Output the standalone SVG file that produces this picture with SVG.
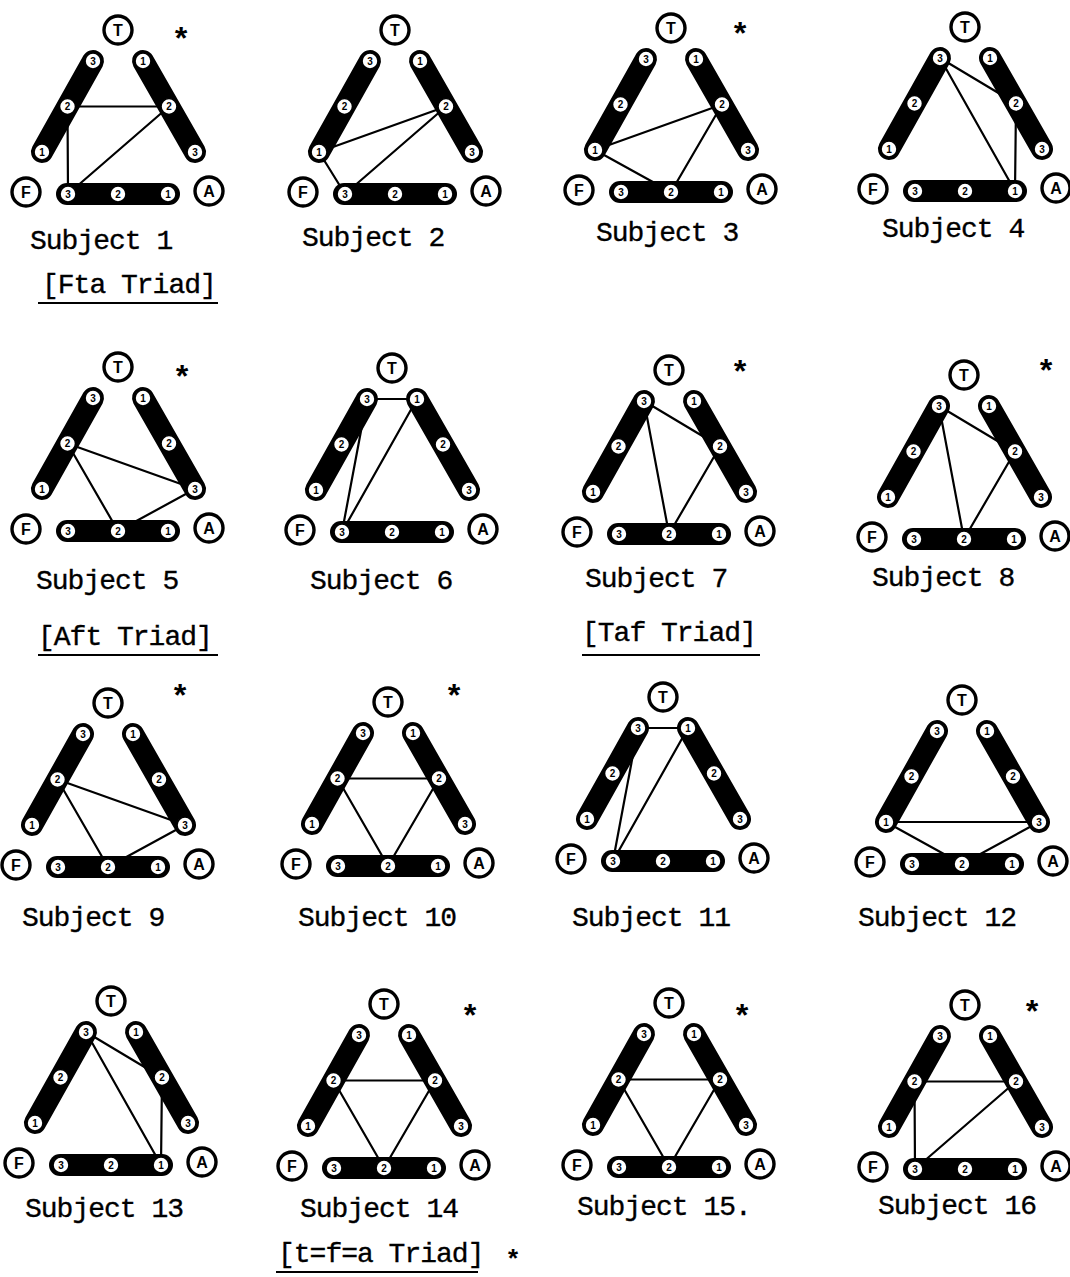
<svg xmlns="http://www.w3.org/2000/svg" xmlns:xlink="http://www.w3.org/1999/xlink" width="1070" height="1277" viewBox="0 0 1070 1277">
<style>
.bar{stroke:#000;stroke-width:22;stroke-linecap:round;fill:none}
.barr{fill:#000}
.dot{fill:#fff;stroke:#000;stroke-width:1.6}
.dig{font-family:"Liberation Sans",Arial,sans-serif;font-size:10px;font-weight:bold;text-anchor:middle;fill:#000}
.big{fill:#fff;stroke:#000;stroke-width:3.4}
.bigl{font-family:"Liberation Sans",Arial,sans-serif;font-size:16px;font-weight:bold;text-anchor:middle;fill:#000}
.lab{font-family:"Liberation Mono","Courier New",monospace;font-size:28px;letter-spacing:-1px;fill:#000;stroke:#000;stroke-width:0.35}
.edge{stroke:#000;stroke-width:2.2;fill:none;stroke-linecap:round}
.ul{stroke:#000;stroke-width:2}
.star{font-family:"Liberation Mono","Courier New",monospace;font-size:32px;font-weight:bold;text-anchor:middle;fill:#000}
.star2{font-family:"Liberation Mono","Courier New",monospace;font-size:26px;font-weight:bold;text-anchor:middle;fill:#000}
</style>
<defs>
  <g id="leftbar">
    <line class="bar" x1="-25" y1="31" x2="-76" y2="122"/>
    <circle class="dot" cx="-25" cy="31" r="8"/><text class="dig" x="-25" y="34.5">3</text>
    <circle class="dot" cx="-50.5" cy="76.5" r="8"/><text class="dig" x="-50.5" y="80">2</text>
    <circle class="dot" cx="-76" cy="122" r="8"/><text class="dig" x="-76" y="125.5">1</text>
  </g>
  <g id="rightbar">
    <line class="bar" x1="25" y1="31" x2="77" y2="122"/>
    <circle class="dot" cx="25" cy="31" r="8"/><text class="dig" x="25" y="34.5">1</text>
    <circle class="dot" cx="51" cy="76.5" r="8"/><text class="dig" x="51" y="80">2</text>
    <circle class="dot" cx="77" cy="122" r="8"/><text class="dig" x="77" y="125.5">3</text>
  </g>
  <g id="botbar">
    <rect class="barr" x="-62" y="153" width="124" height="22" rx="11"/>
    <circle class="dot" cx="-50" cy="164" r="8"/><text class="dig" x="-50" y="167.5">3</text>
    <circle class="dot" cx="0" cy="164" r="8"/><text class="dig" x="0" y="167.5">2</text>
    <circle class="dot" cx="50" cy="164" r="8"/><text class="dig" x="50" y="167.5">1</text>
  </g>
  <g id="nT"><circle class="big" cx="0" cy="0" r="14"/><text class="bigl" x="0" y="6">T</text></g>
  <g id="nF"><circle class="big" cx="-92" cy="162" r="14"/><text class="bigl" x="-92" y="168">F</text></g>
  <g id="nA"><circle class="big" cx="91" cy="161" r="14"/><text class="bigl" x="91" y="167">A</text></g>
</defs>
<rect x="0" y="0" width="1070" height="1277" fill="#fff"/>

<g id="connectors">
  <g id="edges-1" transform="translate(118,30)"><line class="edge" x1="-50.5" y1="76.5" x2="51" y2="76.5"/><line class="edge" x1="-50.5" y1="76.5" x2="-50" y2="164"/><line class="edge" x1="51" y1="76.5" x2="-50" y2="164"/></g>
  <g id="edges-2" transform="translate(395,30)"><line class="edge" x1="-76" y1="122" x2="51" y2="76.5"/><line class="edge" x1="-76" y1="122" x2="-50" y2="164"/><line class="edge" x1="51" y1="76.5" x2="-50" y2="164"/></g>
  <g id="edges-3" transform="translate(671,28)"><line class="edge" x1="-76" y1="122" x2="51" y2="76.5"/><line class="edge" x1="-76" y1="122" x2="0" y2="164"/><line class="edge" x1="51" y1="76.5" x2="0" y2="164"/></g>
  <g id="edges-4" transform="translate(965,27)"><line class="edge" x1="-25" y1="31" x2="51" y2="76.5"/><line class="edge" x1="-25" y1="31" x2="50" y2="164"/><line class="edge" x1="51" y1="76.5" x2="50" y2="164"/></g>
  <g id="edges-5" transform="translate(118,367)"><line class="edge" x1="-50.5" y1="76.5" x2="77" y2="122"/><line class="edge" x1="-50.5" y1="76.5" x2="0" y2="164"/><line class="edge" x1="77" y1="122" x2="0" y2="164"/></g>
  <g id="edges-6" transform="translate(392,368)"><line class="edge" x1="-25" y1="31" x2="25" y2="31"/><line class="edge" x1="-25" y1="31" x2="-50" y2="164"/><line class="edge" x1="25" y1="31" x2="-50" y2="164"/></g>
  <g id="edges-7" transform="translate(669,370)"><line class="edge" x1="-25" y1="31" x2="51" y2="76.5"/><line class="edge" x1="-25" y1="31" x2="0" y2="164"/><line class="edge" x1="51" y1="76.5" x2="0" y2="164"/></g>
  <g id="edges-8" transform="translate(964,375)"><line class="edge" x1="-25" y1="31" x2="51" y2="76.5"/><line class="edge" x1="-25" y1="31" x2="0" y2="164"/><line class="edge" x1="51" y1="76.5" x2="0" y2="164"/></g>
  <g id="edges-9" transform="translate(108,703)"><line class="edge" x1="-50.5" y1="76.5" x2="77" y2="122"/><line class="edge" x1="-50.5" y1="76.5" x2="0" y2="164"/><line class="edge" x1="77" y1="122" x2="0" y2="164"/></g>
  <g id="edges-10" transform="translate(388,702)"><line class="edge" x1="-50.5" y1="76.5" x2="51" y2="76.5"/><line class="edge" x1="-50.5" y1="76.5" x2="0" y2="164"/><line class="edge" x1="51" y1="76.5" x2="0" y2="164"/></g>
  <g id="edges-11" transform="translate(663,697)"><line class="edge" x1="-25" y1="31" x2="25" y2="31"/><line class="edge" x1="-25" y1="31" x2="-50" y2="164"/><line class="edge" x1="25" y1="31" x2="-50" y2="164"/></g>
  <g id="edges-12" transform="translate(962,700)"><line class="edge" x1="-76" y1="122" x2="77" y2="122"/><line class="edge" x1="-76" y1="122" x2="0" y2="164"/><line class="edge" x1="77" y1="122" x2="0" y2="164"/></g>
  <g id="edges-13" transform="translate(111,1001)"><line class="edge" x1="-25" y1="31" x2="51" y2="76.5"/><line class="edge" x1="-25" y1="31" x2="50" y2="164"/><line class="edge" x1="51" y1="76.5" x2="50" y2="164"/></g>
  <g id="edges-14" transform="translate(384,1004)"><line class="edge" x1="-50.5" y1="76.5" x2="51" y2="76.5"/><line class="edge" x1="-50.5" y1="76.5" x2="0" y2="164"/><line class="edge" x1="51" y1="76.5" x2="0" y2="164"/></g>
  <g id="edges-15" transform="translate(669,1003)"><line class="edge" x1="-50.5" y1="76.5" x2="51" y2="76.5"/><line class="edge" x1="-50.5" y1="76.5" x2="0" y2="164"/><line class="edge" x1="51" y1="76.5" x2="0" y2="164"/></g>
  <g id="edges-16" transform="translate(965,1005)"><line class="edge" x1="-50.5" y1="76.5" x2="51" y2="76.5"/><line class="edge" x1="-50.5" y1="76.5" x2="-50" y2="164"/><line class="edge" x1="51" y1="76.5" x2="-50" y2="164"/></g>
</g>

<g id="subject-1" transform="translate(118,30)">
  <g id="s1-T"><use xlink:href="#nT" href="#nT"/></g><g id="s1-F"><use xlink:href="#nF" href="#nF"/></g><g id="s1-A"><use xlink:href="#nA" href="#nA"/></g>
  <g id="s1-left"><use xlink:href="#leftbar" href="#leftbar"/></g><g id="s1-right"><use xlink:href="#rightbar" href="#rightbar"/></g><g id="s1-bottom"><use xlink:href="#botbar" href="#botbar"/></g>
</g>
<g id="subject-2" transform="translate(395,30)">
  <g id="s2-T"><use xlink:href="#nT" href="#nT"/></g><g id="s2-F"><use xlink:href="#nF" href="#nF"/></g><g id="s2-A"><use xlink:href="#nA" href="#nA"/></g>
  <g id="s2-left"><use xlink:href="#leftbar" href="#leftbar"/></g><g id="s2-right"><use xlink:href="#rightbar" href="#rightbar"/></g><g id="s2-bottom"><use xlink:href="#botbar" href="#botbar"/></g>
</g>
<g id="subject-3" transform="translate(671,28)">
  <g id="s3-T"><use xlink:href="#nT" href="#nT"/></g><g id="s3-F"><use xlink:href="#nF" href="#nF"/></g><g id="s3-A"><use xlink:href="#nA" href="#nA"/></g>
  <g id="s3-left"><use xlink:href="#leftbar" href="#leftbar"/></g><g id="s3-right"><use xlink:href="#rightbar" href="#rightbar"/></g><g id="s3-bottom"><use xlink:href="#botbar" href="#botbar"/></g>
</g>
<g id="subject-4" transform="translate(965,27)">
  <g id="s4-T"><use xlink:href="#nT" href="#nT"/></g><g id="s4-F"><use xlink:href="#nF" href="#nF"/></g><g id="s4-A"><use xlink:href="#nA" href="#nA"/></g>
  <g id="s4-left"><use xlink:href="#leftbar" href="#leftbar"/></g><g id="s4-right"><use xlink:href="#rightbar" href="#rightbar"/></g><g id="s4-bottom"><use xlink:href="#botbar" href="#botbar"/></g>
</g>
<g id="subject-5" transform="translate(118,367)">
  <g id="s5-T"><use xlink:href="#nT" href="#nT"/></g><g id="s5-F"><use xlink:href="#nF" href="#nF"/></g><g id="s5-A"><use xlink:href="#nA" href="#nA"/></g>
  <g id="s5-left"><use xlink:href="#leftbar" href="#leftbar"/></g><g id="s5-right"><use xlink:href="#rightbar" href="#rightbar"/></g><g id="s5-bottom"><use xlink:href="#botbar" href="#botbar"/></g>
</g>
<g id="subject-6" transform="translate(392,368)">
  <g id="s6-T"><use xlink:href="#nT" href="#nT"/></g><g id="s6-F"><use xlink:href="#nF" href="#nF"/></g><g id="s6-A"><use xlink:href="#nA" href="#nA"/></g>
  <g id="s6-left"><use xlink:href="#leftbar" href="#leftbar"/></g><g id="s6-right"><use xlink:href="#rightbar" href="#rightbar"/></g><g id="s6-bottom"><use xlink:href="#botbar" href="#botbar"/></g>
</g>
<g id="subject-7" transform="translate(669,370)">
  <g id="s7-T"><use xlink:href="#nT" href="#nT"/></g><g id="s7-F"><use xlink:href="#nF" href="#nF"/></g><g id="s7-A"><use xlink:href="#nA" href="#nA"/></g>
  <g id="s7-left"><use xlink:href="#leftbar" href="#leftbar"/></g><g id="s7-right"><use xlink:href="#rightbar" href="#rightbar"/></g><g id="s7-bottom"><use xlink:href="#botbar" href="#botbar"/></g>
</g>
<g id="subject-8" transform="translate(964,375)">
  <g id="s8-T"><use xlink:href="#nT" href="#nT"/></g><g id="s8-F"><use xlink:href="#nF" href="#nF"/></g><g id="s8-A"><use xlink:href="#nA" href="#nA"/></g>
  <g id="s8-left"><use xlink:href="#leftbar" href="#leftbar"/></g><g id="s8-right"><use xlink:href="#rightbar" href="#rightbar"/></g><g id="s8-bottom"><use xlink:href="#botbar" href="#botbar"/></g>
</g>
<g id="subject-9" transform="translate(108,703)">
  <g id="s9-T"><use xlink:href="#nT" href="#nT"/></g><g id="s9-F"><use xlink:href="#nF" href="#nF"/></g><g id="s9-A"><use xlink:href="#nA" href="#nA"/></g>
  <g id="s9-left"><use xlink:href="#leftbar" href="#leftbar"/></g><g id="s9-right"><use xlink:href="#rightbar" href="#rightbar"/></g><g id="s9-bottom"><use xlink:href="#botbar" href="#botbar"/></g>
</g>
<g id="subject-10" transform="translate(388,702)">
  <g id="s10-T"><use xlink:href="#nT" href="#nT"/></g><g id="s10-F"><use xlink:href="#nF" href="#nF"/></g><g id="s10-A"><use xlink:href="#nA" href="#nA"/></g>
  <g id="s10-left"><use xlink:href="#leftbar" href="#leftbar"/></g><g id="s10-right"><use xlink:href="#rightbar" href="#rightbar"/></g><g id="s10-bottom"><use xlink:href="#botbar" href="#botbar"/></g>
</g>
<g id="subject-11" transform="translate(663,697)">
  <g id="s11-T"><use xlink:href="#nT" href="#nT"/></g><g id="s11-F"><use xlink:href="#nF" href="#nF"/></g><g id="s11-A"><use xlink:href="#nA" href="#nA"/></g>
  <g id="s11-left"><use xlink:href="#leftbar" href="#leftbar"/></g><g id="s11-right"><use xlink:href="#rightbar" href="#rightbar"/></g><g id="s11-bottom"><use xlink:href="#botbar" href="#botbar"/></g>
</g>
<g id="subject-12" transform="translate(962,700)">
  <g id="s12-T"><use xlink:href="#nT" href="#nT"/></g><g id="s12-F"><use xlink:href="#nF" href="#nF"/></g><g id="s12-A"><use xlink:href="#nA" href="#nA"/></g>
  <g id="s12-left"><use xlink:href="#leftbar" href="#leftbar"/></g><g id="s12-right"><use xlink:href="#rightbar" href="#rightbar"/></g><g id="s12-bottom"><use xlink:href="#botbar" href="#botbar"/></g>
</g>
<g id="subject-13" transform="translate(111,1001)">
  <g id="s13-T"><use xlink:href="#nT" href="#nT"/></g><g id="s13-F"><use xlink:href="#nF" href="#nF"/></g><g id="s13-A"><use xlink:href="#nA" href="#nA"/></g>
  <g id="s13-left"><use xlink:href="#leftbar" href="#leftbar"/></g><g id="s13-right"><use xlink:href="#rightbar" href="#rightbar"/></g><g id="s13-bottom"><use xlink:href="#botbar" href="#botbar"/></g>
</g>
<g id="subject-14" transform="translate(384,1004)">
  <g id="s14-T"><use xlink:href="#nT" href="#nT"/></g><g id="s14-F"><use xlink:href="#nF" href="#nF"/></g><g id="s14-A"><use xlink:href="#nA" href="#nA"/></g>
  <g id="s14-left"><use xlink:href="#leftbar" href="#leftbar"/></g><g id="s14-right"><use xlink:href="#rightbar" href="#rightbar"/></g><g id="s14-bottom"><use xlink:href="#botbar" href="#botbar"/></g>
</g>
<g id="subject-15" transform="translate(669,1003)">
  <g id="s15-T"><use xlink:href="#nT" href="#nT"/></g><g id="s15-F"><use xlink:href="#nF" href="#nF"/></g><g id="s15-A"><use xlink:href="#nA" href="#nA"/></g>
  <g id="s15-left"><use xlink:href="#leftbar" href="#leftbar"/></g><g id="s15-right"><use xlink:href="#rightbar" href="#rightbar"/></g><g id="s15-bottom"><use xlink:href="#botbar" href="#botbar"/></g>
</g>
<g id="subject-16" transform="translate(965,1005)">
  <g id="s16-T"><use xlink:href="#nT" href="#nT"/></g><g id="s16-F"><use xlink:href="#nF" href="#nF"/></g><g id="s16-A"><use xlink:href="#nA" href="#nA"/></g>
  <g id="s16-left"><use xlink:href="#leftbar" href="#leftbar"/></g><g id="s16-right"><use xlink:href="#rightbar" href="#rightbar"/></g><g id="s16-bottom"><use xlink:href="#botbar" href="#botbar"/></g>
</g>

<g id="labels">
  <text class="lab" x="30" y="249">Subject 1</text>
  <text class="lab" x="302" y="246">Subject 2</text>
  <text class="lab" x="596" y="241">Subject 3</text>
  <text class="lab" x="882" y="237">Subject 4</text>
  <text class="lab" x="42" y="293">[Fta Triad]</text>
  <line class="ul" x1="38" y1="303" x2="218" y2="303"/>
  <text class="lab" x="36" y="589">Subject 5</text>
  <text class="lab" x="310" y="589">Subject 6</text>
  <text class="lab" x="585" y="587">Subject 7</text>
  <text class="lab" x="872" y="586">Subject 8</text>
  <text class="lab" x="38" y="645">[Aft Triad]</text>
  <line class="ul" x1="38" y1="655" x2="218" y2="655"/>
  <text class="lab" x="582" y="641">[Taf Triad]</text>
  <line class="ul" x1="582" y1="655" x2="760" y2="655"/>
  <text class="lab" x="22" y="926">Subject 9</text>
  <text class="lab" x="298" y="926">Subject 10</text>
  <text class="lab" x="572" y="926">Subject 11</text>
  <text class="lab" x="858" y="926">Subject 12</text>
  <text class="lab" x="25" y="1217">Subject 13</text>
  <text class="lab" x="300" y="1217">Subject 14</text>
  <text class="lab" x="577" y="1215">Subject 15.</text>
  <text class="lab" x="878" y="1214">Subject 16</text>
  <text class="lab" x="278" y="1262">[t=f=a Triad]</text>
  <line class="ul" x1="276" y1="1272" x2="478" y2="1272"/>
</g>
<g id="stars">
  <text class="star" x="181" y="50">*</text>
  <text class="star" x="740" y="45">*</text>
  <text class="star" x="182" y="388">*</text>
  <text class="star" x="740" y="383">*</text>
  <text class="star" x="1046" y="382">*</text>
  <text class="star" x="180" y="707">*</text>
  <text class="star" x="454" y="707">*</text>
  <text class="star" x="470" y="1027">*</text>
  <text class="star" x="742" y="1027">*</text>
  <text class="star" x="1032" y="1023">*</text>
  <text class="star2" x="513" y="1268">*</text>
</g>
</svg>
